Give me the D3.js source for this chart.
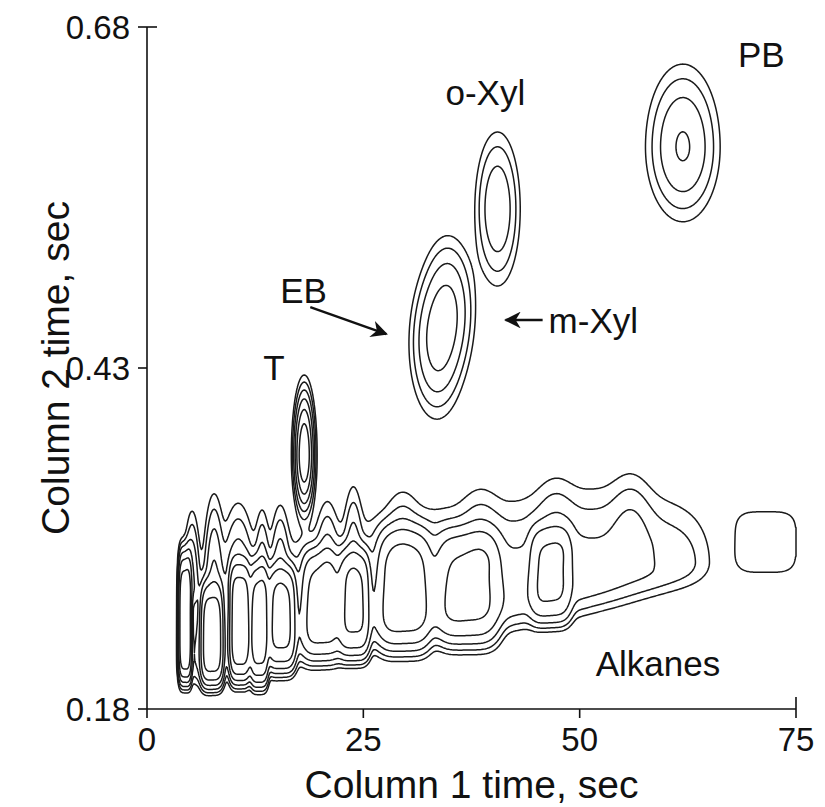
<!DOCTYPE html>
<html><head><meta charset="utf-8">
<script src="https://cdn.jsdelivr.net/npm/d3@7"></script>
<style>body{margin:0;background:#fff}text{font-family:"Liberation Sans",Arial,Helvetica,sans-serif;fill:#111}</style>
</head><body>
<svg id="c" width="825" height="807"></svg>
<script>
// ---- axes ----
const xTicks=[0,25,50,75];
const yTicks=[0.18,0.43,0.68];
const xTickLabels=["0","25","50","75"];
const yTickLabels=["0.18","0.43","0.68"];
const contourLevels=[1,2,4,8,16,32];

// ---- isolated aromatic peaks (col1 s, col2 s, widths s, relative height) ----
const aroNames=["PB","o-Xyl","EB","m-Xyl","T"];
const aroT1=[61.92,40.51,33.45,34.84,18.17];
const aroT2=[0.592,0.5466,0.4469,0.474,0.3662];
const aroW1=[2.08,1.31,1.50,1.50,0.52];
const aroW2Up=[0.0293,0.0282,0.0257,0.0257,0.0205];
const aroW2Down=[0.0264,0.0282,0.0257,0.0257,0.0176];
const aroHeight=[8.6,7.4,9,8,60];

// ---- alkane peak bodies ----
const alkT1=[4.40,7.52,10.76,12.96,15.51,20.25,23.96,29.75,37.04,46.64];
const alkT2=[0.2394,0.2321,0.2409,0.2401,0.2467,0.2562,0.2577,0.2672,0.2687,0.2782];
const alkW1=[0.56,0.98,0.93,0.80,1.27,1.80,1.35,2.43,2.89,1.85];
const alkW2Up=[0.0389,0.0293,0.0337,0.0337,0.0279,0.0300,0.0293,0.0337,0.0323,0.0269];
const alkW2Down=[0.0279,0.0250,0.0290,0.0300,0.0279,0.0300,0.0293,0.0337,0.0323,0.0269];
const alkHeight=[60,45,45,40,33,16,30,16.3,13,12];

// ---- unresolved alkane band ----
const bandT1=[6.60,10.76,16.55,22.34,28.13,33.91,39.70,45.49,51.27,57.06,62.27];
const bandT2=[0.2159,0.2233,0.2321,0.2394,0.2467,0.2511,0.2562,0.2636,0.2724,0.2819,0.2878];
const bandW1=[1.50,2.60,3.47,3.47,3.47,3.47,3.47,3.47,3.47,3.47,2.31];
const bandW2Up=[0.0340,0.0340,0.0350,0.0360,0.0380,0.0385,0.0367,0.0367,0.0367,0.0330,0.0257];
const bandW2Down=[0.0110,0.0110,0.0110,0.0110,0.0110,0.0110,0.0110,0.0110,0.0110,0.0110,0.0110];
const bandHeight=[4.5,4.5,4.5,4.5,4.5,4.5,4.5,4.5,4,3.5,1.5];

// ---- minor co-eluting peaks above the band ----
const minorT1=[5.21,7.75,10.53,13.31,15.39,20.83,23.84,29.51,38.54,47.22,55.90];
const minorT2=[0.2709,0.2746,0.2746,0.2709,0.2746,0.2782,0.2819,0.2892,0.2929,0.3002,0.3039];
const minorW1=[0.46,0.60,0.95,0.46,0.58,0.70,0.58,1.16,1.39,1.39,1.39];
const minorW2Up=[0.0264,0.0308,0.0293,0.0279,0.0279,0.0279,0.0308,0.0257,0.0257,0.0257,0.0257];
const minorW2Down=[0.0088,0.0088,0.0088,0.0088,0.0088,0.0088,0.0088,0.0088,0.0088,0.0088,0.0088];
const minorHeight=[8,8,6,6,6,5,6,4,3,3,3];

// ---- isolated late eluter ----
const lateT1=[71.53];
const lateT2=[0.3024];
const lateW1=[3.33];
const lateW2=[0.0213];
const lateHeight=[1.8];

// ---- annotations (data coords) ----
const labelText=["PB","o-Xyl","EB","T","m-Xyl","Alkanes"];
const labelT1=[68.29,34.49,15.39,13.43,46.41,51.85];
const labelT2=[0.6507,0.6228,0.4777,0.4212,0.4557,0.2042];
const arrowFrom=[[18.87,0.4747],[45.72,0.4652]];
const arrowTo=[[27.66,0.4549],[41.44,0.4652]];

const svg=d3.select("#c");
const x=d3.scaleLinear([0,75],[147,796]);
const y=d3.scaleLinear([0.18,0.68],[709,27]);

// grid
const nx=650, ny=600;
const xMin=0,xMax=75,yMin=0.18,yMax=0.68;
const dxs=(xMax-xMin)/nx, dys=(yMax-yMin)/ny;
const vals=new Float64Array(nx*ny);
function addPeaks(t1,t2,w1,wu,wd,h,p){
  for(let k=0;k<t1.length;k++){
    const reach=p>2?3:5;
    const i0=Math.max(0,Math.floor((t1[k]-reach*w1[k]-xMin)/dxs));
    const i1=Math.min(nx-1,Math.ceil((t1[k]+reach*w1[k]-xMin)/dxs));
    const j0=Math.max(0,Math.floor((yMax-(t2[k]+reach*wu[k]))/dys));
    const j1=Math.min(ny-1,Math.ceil((yMax-(t2[k]-reach*wd[k]))/dys));
    for(let j=j0;j<=j1;j++){
      const yv=yMax-(j+0.5)*dys;
      const dy=yv-t2[k];
      const ay=Math.pow(Math.abs(dy)/(dy>0?wu[k]:wd[k]),p);
      for(let i=i0;i<=i1;i++){
        const xv=xMin+(i+0.5)*dxs;
        const ax=Math.pow(Math.abs(xv-t1[k])/w1[k],p);
        vals[j*nx+i]+=h[k]*Math.exp(-0.5*(ax+ay));
      }
    }
  }
}
addPeaks(aroT1,aroT2,aroW1,aroW2Up,aroW2Down,aroHeight,2);
addPeaks(alkT1,alkT2,alkW1,alkW2Up,alkW2Down,alkHeight,4);
addPeaks(bandT1,bandT2,bandW1,bandW2Up,bandW2Down,bandHeight,2);
addPeaks(minorT1,minorT2,minorW1,minorW2Up,minorW2Down,minorHeight,2);
addPeaks(lateT1,lateT2,lateW1,lateW2,lateW2,lateHeight,4);

const proj=d3.geoTransform({point(gx,gy){this.stream.point(x(xMin+gx*dxs),y(yMax-gy*dys));}});
const gpath=d3.geoPath(proj);
const contours=d3.contours().size([nx,ny]).thresholds(contourLevels)(Array.from(vals));
svg.append("g").attr("fill","none").attr("stroke","#1a1a1a").attr("stroke-width",1.5).attr("stroke-linejoin","round")
  .selectAll("path").data(contours).join("path").attr("d",gpath);

// axes
const ax=svg.append("g").attr("stroke","#111").attr("stroke-width",1.6);
ax.append("line").attr("x1",x(0)).attr("x2",x(0)).attr("y1",y(0.68)).attr("y2",y(0.18));
ax.append("line").attr("x1",x(0)).attr("x2",x(75)).attr("y1",y(0.18)).attr("y2",y(0.18));
xTicks.forEach((t,i)=>{
  const inner=(i===xTicks.length-1)?12:0;
  ax.append("line").attr("x1",x(t)).attr("x2",x(t)).attr("y1",y(0.18)-inner).attr("y2",y(0.18)+9);
});
yTicks.forEach((t,i)=>{
  const inner=(i===yTicks.length-1)?10:0;
  ax.append("line").attr("x1",x(0)-9).attr("x2",x(0)+inner).attr("y1",y(t)).attr("y2",y(t));
});
svg.append("g").selectAll("text").data(xTicks).join("text")
  .attr("x",d=>x(d)).attr("y",y(0.18)+42).attr("text-anchor","middle").attr("font-size",33)
  .text((d,i)=>xTickLabels[i]);
svg.append("g").selectAll("text").data(yTicks).join("text")
  .attr("x",x(0)-17).attr("y",d=>y(d)+12).attr("text-anchor","end").attr("font-size",33)
  .text((d,i)=>yTickLabels[i]);
svg.append("text").attr("x",(x(0)+x(75))/2).attr("y",798).attr("text-anchor","middle").attr("font-size",39).text("Column 1 time, sec");
svg.append("text").attr("transform",`translate(69,${y(0.43)}) rotate(-90)`).attr("text-anchor","middle").attr("font-size",39).text("Column 2 time, sec");

// annotations
svg.append("g").selectAll("text").data(labelText).join("text")
  .attr("x",(d,i)=>x(labelT1[i])).attr("y",(d,i)=>y(labelT2[i])).attr("font-size",35).text(d=>d);
const defs=svg.append("defs");
defs.append("marker").attr("id","ah").attr("viewBox","0 0 10 10").attr("refX",9).attr("refY",5)
  .attr("markerWidth",7).attr("markerHeight",7).attr("markerUnits","strokeWidth").attr("orient","auto")
  .append("path").attr("d","M0,0 L10,5 L0,10 L3,5 Z").attr("fill","#111");
arrowFrom.forEach((f,i)=>{
  svg.append("line").attr("x1",x(f[0])).attr("y1",y(f[1])).attr("x2",x(arrowTo[i][0])).attr("y2",y(arrowTo[i][1]))
    .attr("stroke","#111").attr("stroke-width",2.4).attr("marker-end","url(#ah)");
});
</script>
</body></html>
